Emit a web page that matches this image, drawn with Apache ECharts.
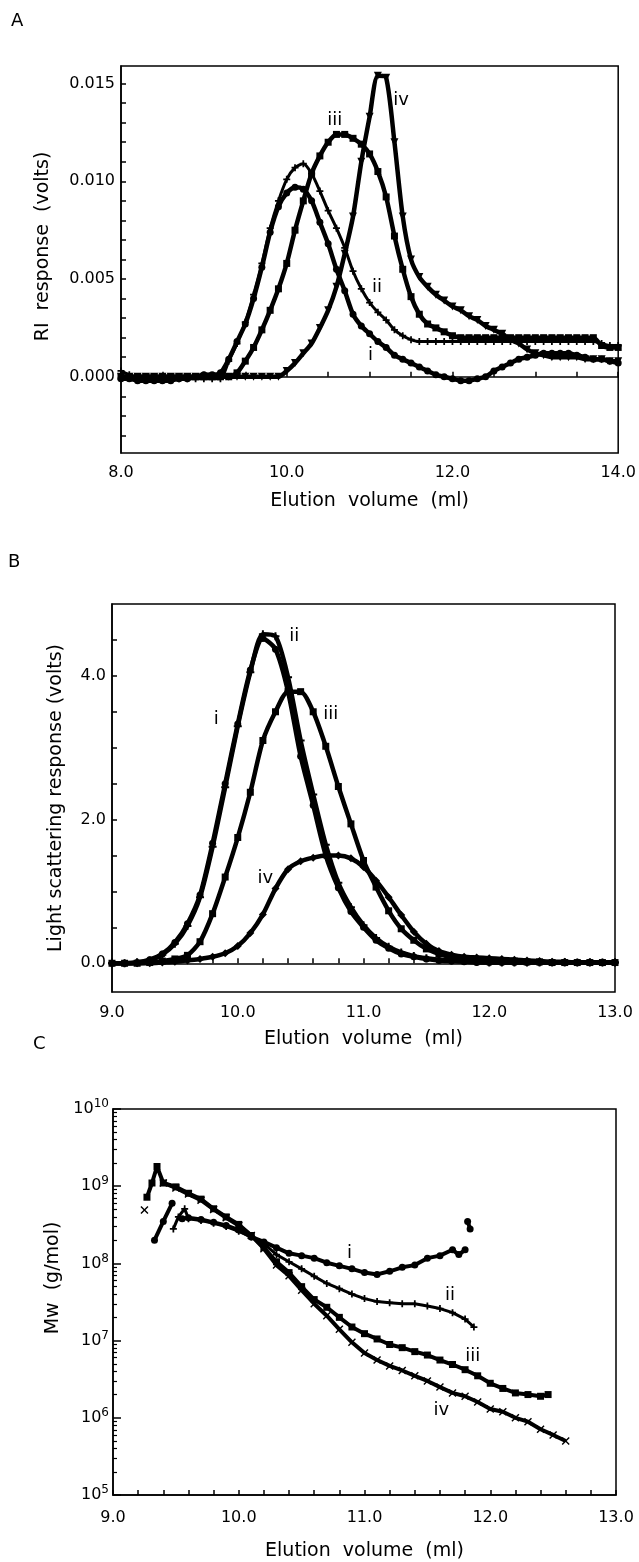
<!DOCTYPE html>
<html><head><meta charset="utf-8">
<script src="https://cdn.jsdelivr.net/npm/echarts@6/dist/echarts.min.js"></script>
<style>html,body{margin:0;padding:0;background:#fff}#c{width:639px;height:1562px}</style>
</head><body><div id="c"></div>
<script>
const FONT = 'DejaVu Sans';

// ---------- Panel A : RI response (volts) ----------
const volA = [8.0,8.1,8.2,8.3,8.4,8.5,8.6,8.7,8.8,8.9,9.0,9.1,9.2,9.3,9.4,9.5,9.6,9.7,9.8,9.9,
  10.0,10.1,10.2,10.3,10.4,10.5,10.6,10.7,10.8,10.9,11.0,11.1,11.2,11.3,11.4,11.5,11.6,11.7,11.8,11.9,
  12.0,12.1,12.2,12.3,12.4,12.5,12.6,12.7,12.8,12.9,13.0,13.1,13.2,13.3,13.4,13.5,13.6,13.7,13.8,13.9,14.0];
const riA_i = [-0.0001,-0.0001,-0.0002,-0.0002,-0.0002,-0.0002,-0.0002,-0.0001,-0.0001,0.0000,0.0001,0.0001,0.0002,0.0009,0.0018,0.0027,0.0040,0.0056,0.0074,0.0087,
  0.0094,0.0097,0.0096,0.0090,0.0079,0.0068,0.0055,0.0044,0.0032,0.0026,0.0022,0.0018,0.0015,0.0011,0.0009,0.0007,0.0005,0.0003,0.0001,0.0000,
  -0.0001,-0.0002,-0.0002,-0.0001,0.0000,0.0003,0.0005,0.0007,0.0009,0.0010,0.0011,0.0012,0.0012,0.0012,0.0012,0.0011,0.0010,0.0009,0.0009,0.0008,0.0007];
const riA_ii = [0.0003,0.0001,-0.0001,-0.0001,-0.0001,-0.0001,-0.0001,-0.0001,-0.0001,-0.0001,-0.0001,-0.0001,-0.0001,0.0008,0.0017,0.0028,0.0042,0.0058,0.0076,0.0090,
  0.0101,0.0107,0.0109,0.0104,0.0095,0.0085,0.0076,0.0066,0.0054,0.0045,0.0038,0.0033,0.0029,0.0024,0.0021,0.0019,0.0018,0.0018,0.0018,0.0018,
  0.0018,0.0018,0.0018,0.0018,0.0018,0.0018,0.0018,0.0018,0.0018,0.0018,0.0018,0.0018,0.0018,0.0018,0.0018,0.0018,0.0018,0.0018,0.0017,0.0016,0.0016];
const riA_iii = [0.0000,0.0000,0.0000,0.0000,0.0000,0.0000,0.0000,0.0000,0.0000,0.0000,0.0000,0.0000,0.0000,0.0000,0.0002,0.0008,0.0015,0.0024,0.0034,0.0045,
  0.0058,0.0075,0.0090,0.0104,0.0113,0.0120,0.0124,0.0124,0.0122,0.0119,0.0114,0.0105,0.0092,0.0072,0.0055,0.0041,0.0032,0.0027,0.0025,0.0023,
  0.0021,0.0020,0.0020,0.0020,0.0020,0.0020,0.0020,0.0020,0.0020,0.0020,0.0020,0.0020,0.0020,0.0020,0.0020,0.0020,0.0020,0.0020,0.0016,0.0015,0.0015];
const riA_iv = [0.0000,0.0000,0.0000,0.0000,0.0000,0.0000,0.0000,0.0000,0.0000,0.0000,0.0000,0.0000,0.0000,0.0000,0.0000,0.0000,0.0000,0.0000,0.0000,0.0000,
  0.0003,0.0007,0.0012,0.0017,0.0025,0.0034,0.0046,0.0063,0.0082,0.0110,0.0133,0.0154,0.0153,0.0120,0.0082,0.0060,0.0051,0.0046,0.0042,0.0039,
  0.0036,0.0034,0.0031,0.0029,0.0026,0.0024,0.0022,0.0019,0.0017,0.0014,0.0012,0.0011,0.0010,0.0010,0.0010,0.0010,0.0009,0.0009,0.0009,0.0008,0.0008];
const ticksAY = [-0.003,-0.002,-0.001,0,0.001,0.002,0.003,0.004,0.005,0.006,0.007,0.008,0.009,0.010,0.011,0.012,0.013,0.014,0.015];
const labelsAY = [0, 0.005, 0.010, 0.015];
const curveLabelsA = [['i', 11.01, 0.0011], ['ii', 11.09, 0.0046], ['iii', 10.58, 0.0131], ['iv', 11.38, 0.01415]];

// ---------- Panel B : Light scattering response (volts) ----------
const volB = [9.0,9.1,9.2,9.3,9.4,9.5,9.6,9.7,9.8,9.9,10.0,10.1,10.2,10.3,10.4,10.5,10.6,10.7,10.8,10.9,
  11.0,11.1,11.2,11.3,11.4,11.5,11.6,11.7,11.8,11.9,12.0,12.1,12.2,12.3,12.4,12.5,12.6,12.7,12.8,12.9,13.0];
const lsB_i = [0,0,0.01,0.05,0.13,0.29,0.55,0.95,1.67,2.50,3.33,4.08,4.52,4.37,3.78,2.88,2.20,1.50,1.05,0.72,
  0.50,0.32,0.21,0.13,0.09,0.06,0.04,0.03,0.02,0.01,0.01,0.01,0.01,0.01,0.01,0.01,0.01,0.01,0.01,0.01,0.01];
const lsB_ii = [0,0,0.01,0.04,0.12,0.27,0.52,0.92,1.62,2.45,3.30,4.05,4.58,4.55,3.98,3.10,2.35,1.65,1.12,0.78,
  0.53,0.35,0.23,0.15,0.10,0.07,0.05,0.04,0.03,0.02,0.01,0.01,0.01,0.01,0.01,0.01,0.01,0.01,0.01,0.01,0.01];
const lsB_iii = [0,0,0,0.01,0.03,0.06,0.11,0.30,0.69,1.20,1.75,2.38,3.10,3.50,3.78,3.78,3.50,3.02,2.46,1.94,
  1.43,1.06,0.73,0.48,0.32,0.20,0.13,0.08,0.06,0.05,0.04,0.03,0.03,0.02,0.02,0.01,0.01,0.01,0.01,0.01,0.01];
const lsB_iv = [0,0,0,0,0.01,0.02,0.04,0.06,0.09,0.14,0.24,0.42,0.68,1.04,1.31,1.42,1.47,1.50,1.50,1.46,
  1.34,1.15,0.92,0.67,0.44,0.27,0.17,0.12,0.09,0.08,0.07,0.06,0.05,0.04,0.03,0.02,0.02,0.01,0.01,0.01,0.01];
const ticksBY = [0,0.5,1.0,1.5,2.0,2.5,3.0,3.5,4.0,4.5];
const labelsBY = [0, 2.0, 4.0];
const curveLabelsB = [['i', 9.83, 3.39], ['ii', 10.45, 4.55], ['iii', 10.74, 3.46], ['iv', 10.22, 1.18]];

// ---------- Panel C : Mw (g/mol) ----------
const volC_i = [9.33,9.40,9.47,9.50,9.55,9.6,9.7,9.8,9.9,10.0,10.1,10.2,10.3,10.4,10.5,10.6,10.7,10.8,10.9,11.0,11.1,11.2,11.3,11.4,11.5,11.6,11.7,11.75,11.8,11.81,11.82,11.84];
const mwC_i = [2.0e8,3.5e8,6.0e8,null,3.8e8,3.9e8,3.7e8,3.4e8,3.1e8,2.7e8,2.2e8,1.9e8,1.6e8,1.35e8,1.26e8,1.17e8,1.02e8,9.3e7,8.5e7,7.6e7,7.2e7,7.9e7,8.9e7,9.5e7,1.17e8,1.26e8,1.5e8,1.3e8,1.5e8,null,3.5e8,2.8e8];
const volC_ii = [9.48,9.52,9.57,9.6,9.7,9.8,9.9,10.0,10.1,10.2,10.3,10.4,10.5,10.6,10.7,10.8,10.9,11.0,11.1,11.2,11.3,11.4,11.5,11.6,11.7,11.8,11.87];
const mwC_ii = [2.8e8,4.0e8,5.1e8,3.8e8,3.6e8,3.3e8,3.0e8,2.6e8,2.2e8,1.8e8,1.3e8,1.05e8,8.5e7,6.8e7,5.5e7,4.7e7,4.0e7,3.5e7,3.2e7,3.1e7,3.0e7,3.0e7,2.8e7,2.6e7,2.3e7,1.9e7,1.5e7];
const volC_iii = [9.27,9.31,9.35,9.4,9.5,9.6,9.7,9.8,9.9,10.0,10.1,10.2,10.3,10.4,10.5,10.6,10.7,10.8,10.9,11.0,11.1,11.2,11.3,11.4,11.5,11.6,11.7,11.8,11.9,12.0,12.1,12.2,12.3,12.4,12.46];
const mwC_iii = [7.2e8,1.1e9,1.8e9,1.1e9,9.8e8,8.1e8,6.8e8,5.1e8,4.0e8,3.2e8,2.3e8,1.6e8,1.05e8,7.6e7,5.0e7,3.4e7,2.7e7,2.0e7,1.5e7,1.23e7,1.05e7,8.9e6,8.1e6,7.2e6,6.5e6,5.6e6,4.9e6,4.2e6,3.5e6,2.8e6,2.4e6,2.1e6,2.0e6,1.9e6,2.0e6];
const volC_iv = [9.25,9.3,9.4,9.5,9.6,9.7,9.8,9.9,10.0,10.1,10.2,10.3,10.4,10.5,10.6,10.7,10.8,10.9,11.0,11.1,11.2,11.3,11.4,11.5,11.6,11.7,11.8,11.9,12.0,12.1,12.2,12.3,12.4,12.5,12.6];
const mwC_iv = [4.9e8,null,1.1e9,9.5e8,7.9e8,6.6e8,5.0e8,3.9e8,3.1e8,2.3e8,1.55e8,9.5e7,6.9e7,4.5e7,3.0e7,2.1e7,1.4e7,9.5e6,6.9e6,5.6e6,4.7e6,4.1e6,3.5e6,3.0e6,2.5e6,2.1e6,1.9e6,1.6e6,1.3e6,1.2e6,1.0e6,8.9e5,7.1e5,6.0e5,5.0e5];
const decadesC = [1e5,1e6,1e7,1e8,1e9,1e10];
const minorTicksC = [2e5,3e5,4e5,5e5,6e5,7e5,8e5,9e5,2e6,3e6,4e6,5e6,6e6,7e6,8e6,9e6,2e7,3e7,4e7,5e7,6e7,7e7,8e7,9e7,
  2e8,3e8,4e8,5e8,6e8,7e8,8e8,9e8,2e9,3e9,4e9,5e9,6e9,7e9,8e9,9e9];
const curveLabelsC = [['i', 10.88, 1.35e8], ['ii', 11.68, 3.9e7], ['iii', 11.86, 6.2e6], ['iv', 11.61, 1.26e6]];

// ---------- symbols ----------
const PLUS = 'path://M3,0H5V3H8V5H5V8H3V5H0V3H3Z';
const CROSS = 'path://M0,1L1,0L4,3L7,0L8,1L5,4L8,7L7,8L4,5L1,8L0,7L3,4Z';

function curve(name, idx, xs, ys, symbol, extra) {
  return Object.assign({
    name: name, type: 'line', xAxisIndex: idx, yAxisIndex: idx,
    data: xs.map((x, i) => [x, ys[i]]),
    symbol: symbol, symbolSize: 7, showSymbol: true, smooth: 0.25,
    lineStyle: { color: '#000', width: 4.5 }, itemStyle: { color: '#000' },
    connectNulls: false, animation: false, z: 3
  }, extra || {});
}
function labelSeries(idx, list) {
  return {
    type: 'scatter', xAxisIndex: idx, yAxisIndex: idx, symbol: 'circle', symbolSize: 0.1,
    itemStyle: { color: '#000' }, z: 10, animation: false, silent: true,
    data: list.map(l => ({ name: l[0], value: [l[1], l[2]] })),
    label: { show: true, position: 'inside', formatter: p => p.name, color: '#000', opacity: 1,
      fontFamily: FONT, fontSize: 18, textBorderWidth: 0 }
  };
}
const oneDec = v => (Math.abs(v - Math.round(v)) < 1e-6 ? v.toFixed(1) : '');
const axText = { color: '#000', fontFamily: FONT, fontSize: 16 };
const nameText = { color: '#000', fontFamily: FONT, fontSize: 19 };
const axLine = { show: true, lineStyle: { color: '#000', width: 1.5 } };
const tickStyle = { color: '#000', width: 1.5 };

const chart = echarts.init(document.getElementById('c'), null, { renderer: 'canvas' });
chart.setOption({
  backgroundColor: '#fff',
  animation: false,
  graphic: [
    { type: 'text', left: 11, top: 12, style: { text: 'A', fontSize: 18, fontFamily: FONT, fill: '#000' } },
    { type: 'text', left: 8, top: 553, style: { text: 'B', fontSize: 18, fontFamily: FONT, fill: '#000' } },
    { type: 'text', left: 33, top: 1035, style: { text: 'C', fontSize: 18, fontFamily: FONT, fill: '#000' } }
  ],
  grid: [
    { left: 121, top: 66, width: 501, height: 387, show: true, borderColor: '#000', borderWidth: 1.5 },
    { left: 112, top: 604, width: 503, height: 388, show: true, borderColor: '#000', borderWidth: 1.5 },
    { left: 113, top: 1109, width: 503, height: 386, show: true, borderColor: '#000', borderWidth: 1.5 }
  ],
  xAxis: [
    { gridIndex: 0, type: 'value', min: 8, max: 14, interval: 0.5,
      axisLine: axLine, splitLine: { show: false },
      axisTick: { inside: true, length: 5, lineStyle: tickStyle },
      axisLabel: Object.assign({ margin: 12, formatter: v => (Math.abs(v / 2 - Math.round(v / 2)) < 1e-6 ? v.toFixed(1) : '') }, axText),
      name: 'Elution  volume  (ml)', nameLocation: 'middle', nameGap: 39, nameTextStyle: nameText },
    { gridIndex: 1, type: 'value', min: 9, max: 13, interval: 0.2,
      axisLine: axLine, splitLine: { show: false },
      axisTick: { inside: true, length: 5, lineStyle: tickStyle },
      axisLabel: Object.assign({ margin: 13, formatter: oneDec }, axText),
      name: 'Elution  volume  (ml)', nameLocation: 'middle', nameGap: 38, nameTextStyle: nameText },
    { gridIndex: 2, type: 'value', min: 9, max: 13, interval: 0.2,
      axisLine: axLine, splitLine: { show: false },
      axisTick: { inside: true, length: 5, lineStyle: tickStyle },
      axisLabel: Object.assign({ margin: 15, formatter: oneDec }, axText),
      name: 'Elution  volume  (ml)', nameLocation: 'middle', nameGap: 47, nameTextStyle: nameText }
  ],
  yAxis: [
    { gridIndex: 0, type: 'value', min: -0.0039, max: 0.0159,
      axisLine: axLine, splitLine: { show: false },
      axisTick: { inside: true, length: 5, customValues: ticksAY, lineStyle: tickStyle },
      axisLabel: Object.assign({ margin: 6, customValues: labelsAY, formatter: v => v.toFixed(3) }, axText),
      name: 'RI  response  (volts)', nameLocation: 'middle', nameGap: 68, nameRotate: 90,
      nameTextStyle: Object.assign({ padding: [0, 0, 0, 26] }, nameText) },
    { gridIndex: 1, type: 'value', min: -0.4, max: 5.0,
      axisLine: axLine, splitLine: { show: false },
      axisTick: { inside: true, length: 5, customValues: ticksBY, lineStyle: tickStyle },
      axisLabel: Object.assign({ margin: 6, customValues: labelsBY, formatter: v => v.toFixed(1) }, axText),
      name: 'Light scattering response (volts)', nameLocation: 'middle', nameGap: 46, nameRotate: 90,
      nameTextStyle: nameText },
    { gridIndex: 2, type: 'log', logBase: 10, min: 1e5, max: 1e10, position: 'left',
      axisLine: axLine, splitLine: { show: false }, minorSplitLine: { show: false },
      axisTick: { inside: true, length: 8, customValues: decadesC, lineStyle: tickStyle },
      axisLabel: { margin: 4, customValues: decadesC,
        formatter: v => '{b|10}{s|' + Math.round(Math.log10(v)) + '}',
        rich: { b: { fontFamily: FONT, fontSize: 16, color: '#000' },
                s: { fontFamily: FONT, fontSize: 12, color: '#000', padding: [0, 0, 10, 0] } } },
      name: 'Mw  (g/mol)', nameLocation: 'middle', nameGap: 50, nameRotate: 90,
      nameTextStyle: Object.assign({ padding: [0, 0, 0, 48] }, nameText) },
    { gridIndex: 2, type: 'log', logBase: 10, min: 1e5, max: 1e10, position: 'left', offset: 0,
      axisLine: { show: false }, splitLine: { show: false }, axisLabel: { show: false },
      axisTick: { inside: true, length: 4, customValues: minorTicksC, lineStyle: { color: '#000', width: 1.2 } } }
  ],
  series: [
    curve('i', 0, volA, riA_i, 'circle'),
    curve('ii', 0, volA, riA_ii, PLUS, { lineStyle: { color: '#000', width: 3 } }),
    curve('iii', 0, volA, riA_iii, 'rect'),
    curve('iv', 0, volA, riA_iv, 'triangle', { symbolRotate: 180, symbolSize: 8 }),
    labelSeries(0, curveLabelsA),

    curve('i', 1, volB, lsB_i, 'circle'),
    curve('ii', 1, volB, lsB_ii, PLUS, { symbolSize: 8 }),
    curve('iii', 1, volB, lsB_iii, 'rect'),
    curve('iv', 1, volB, lsB_iv, 'diamond', { symbolSize: 8 }),
    labelSeries(1, curveLabelsB),

    curve('i', 2, volC_i, mwC_i, 'circle', { smooth: false, lineStyle: { color: '#000', width: 4 } }),
    curve('ii', 2, volC_ii, mwC_ii, PLUS, { smooth: false, lineStyle: { color: '#000', width: 3 } }),
    curve('iii', 2, volC_iii, mwC_iii, 'rect', { smooth: false, lineStyle: { color: '#000', width: 4 } }),
    curve('iv', 2, volC_iv, mwC_iv, CROSS, { smooth: false, symbolSize: 8, lineStyle: { color: '#000', width: 4 } }),
    labelSeries(2, curveLabelsC)
  ]
});
</script>
</body></html>
